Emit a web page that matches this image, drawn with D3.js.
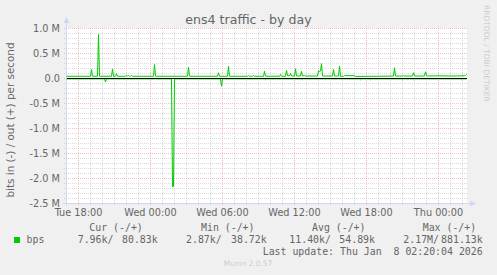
<!DOCTYPE html>
<html><head><meta charset="utf-8">
<script src="https://cdn.jsdelivr.net/npm/d3@7"></script>
<style>
html,body{margin:0;padding:0;background:#F0F0F0;}
svg{display:block;}
text{font-family:"DejaVu Sans",sans-serif;}
.mono{font-family:"DejaVu Sans Mono",monospace;}
</style></head>
<body>
<script>
// ---------- data ----------
const title = "ens4 traffic - by day";
const yLabel = "bits in (-) / out (+) per second";
const timeDomain = ["06 17:00", "08 02:20"];
const xTicks = ["06 18:00","07 00:00","07 06:00","07 12:00","07 18:00","08 00:00"];
const yTicks = [1000,500,0,-500,-1000,-1500,-2000,-2500]; // k
const yTickLabels = ["1.0 M","0.5 M","0.0","-0.5 M","-1.0 M","-1.5 M","-2.0 M","-2.5 M"];
// out (+) series, bits/s in k
const outSeries = [
 ["06 17:00",45],["06 19:00",45],["06 19:05",180],["06 19:10",45],
 ["06 19:35",45],["06 19:40",880],["06 19:45",45],
 ["06 20:45",45],["06 20:50",190],["06 20:55",45],
 ["06 21:05",45],["06 21:10",95],["06 21:15",45],
 ["06 21:55",45],["06 22:00",65],["06 22:05",45],["06 22:10",60],["06 22:15",45],
 ["06 22:20",45],["06 22:25",65],["06 22:30",45],
 ["07 00:15",45],["07 00:20",280],["07 00:25",45],
 ["07 03:05",45],["07 03:10",225],["07 03:15",45],
 ["07 05:35",45],["07 05:40",115],["07 05:45",45],
 ["07 06:25",45],["07 06:30",245],["07 06:35",45],
 ["07 08:05",45],["07 08:10",60],["07 08:15",45],
 ["07 08:30",45],["07 08:35",60],["07 08:40",45],
 ["07 09:25",45],["07 09:30",145],["07 09:35",45],
 ["07 10:45",45],["07 10:50",80],["07 10:55",45],
 ["07 11:15",45],["07 11:20",160],["07 11:25",55],["07 11:35",55],["07 11:40",100],["07 11:45",50],
 ["07 12:00",50],["07 12:05",195],["07 12:10",50],
 ["07 12:30",50],["07 12:35",145],["07 12:40",50],["07 12:50",60],["07 12:55",50],
 ["07 13:55",50],["07 14:00",160],["07 14:05",140],["07 14:10",150],["07 14:15",295],["07 14:20",50],
 ["07 15:10",50],["07 15:15",180],["07 15:20",50],
 ["07 15:40",50],["07 15:45",245],["07 15:50",45],
 ["07 16:05",45],["07 16:10",58],["07 17:00",58],["07 17:05",42],["07 19:00",45],
 ["07 20:15",50],["07 20:20",215],["07 20:25",50],
 ["07 21:00",50],["07 21:05",60],["07 21:10",50],
 ["07 21:50",50],["07 21:55",115],["07 22:00",50],
 ["07 22:50",50],["07 22:55",135],["07 23:00",60],["07 23:05",50],
 ["08 00:00",55],["08 01:00",50],["08 02:10",55],["08 02:15",60],["08 02:20",81]
];
// in (-) series, bits/s in k
const inSeries = [
 ["06 17:00",-8],["06 20:10",-8],["06 20:15",-70],["06 20:20",-8],
 ["07 01:45",-8],["07 01:50",-2170],["07 01:55",-2150],["07 02:00",-8],
 ["07 05:50",-8],["07 05:55",-155],["07 06:00",-8],
 ["07 09:30",-8],["07 09:35",-25],["07 09:40",-8],
 ["07 12:35",-8],["07 12:40",-25],["07 12:45",-8],
 ["07 17:25",-8],["07 17:30",-25],["07 17:35",-8],
 ["07 18:15",-8],["07 18:20",-25],["07 18:25",-8],
 ["07 20:55",-8],["07 21:00",-25],["07 21:05",-8],
 ["07 21:50",-8],["07 21:55",-25],["07 22:00",-8],
 ["08 01:50",-8],["08 01:55",-25],["08 02:00",-8],["08 02:20",-8]
];
const legendHeaders = ["Cur (-/+)","Min (-/+)","Avg (-/+)","Max (-/+)"];
const legendIn = ["7.96k/","2.87k/","11.40k/","2.17M/"];
const legendOut = ["80.83k","38.72k","54.89k","881.13k"];
const seriesName = "bps";
const lastUpdate = "Last update: Thu Jan  8 02:20:04 2026";
const watermark = "Munin 2.0.57";
const sideText = "RRDTOOL / TOBI OETIKER";

// ---------- drawing ----------
const W = 497, H = 275;
const parse = s => d3.timeParse("%Y-%m-%d %H:%M")("2026-01-" + s);
const svg = d3.select("body").append("svg").attr("width", W).attr("height", H);
svg.append("rect").attr("width", W).attr("height", H).attr("fill", "#F0F0F0");

const X0 = 66, X1 = 466, Y0 = 28, Y1 = 203;
const x = d3.scaleTime().domain(timeDomain.map(parse)).range([X0 + 0.5, X1 + 0.5]);
const y = d3.scaleLinear().domain([-2500, 1000]).range([Y1 + 0.5, Y0 + 0.5]);

svg.append("rect").attr("x", X0).attr("y", Y0).attr("width", X1 - X0 + 1).attr("height", Y1 - Y0)
  .attr("fill", "#FFFFFF");

const FONT = "#666666";
const grid = svg.append("g").attr("shape-rendering", "crispEdges");
// minor horizontal grid every 100k
const minorY = d3.range(-2500, 1001, 100).filter(v => v % 500 !== 0);
grid.selectAll(".hmin").data(minorY).enter().append("line")
  .attr("x1", X0 - 2).attr("x2", X1 + 1).attr("y1", d => Math.floor(y(d)) + 0.5).attr("y2", d => Math.floor(y(d)) + 0.5)
  .attr("stroke", "#8F8F8F").attr("stroke-opacity", 0.32).attr("stroke-dasharray", "1,1");
// minor vertical grid every hour
const hours = d3.timeHour.range(parse("06 17:00"), parse("08 02:21")).filter(t => t.getHours() % 6 !== 0);
grid.selectAll(".vmin").data(hours).enter().append("line")
  .attr("x1", d => Math.floor(x(d)) + 0.5).attr("x2", d => Math.floor(x(d)) + 0.5).attr("y1", Y0).attr("y2", Y1 + 3)
  .attr("stroke", "#8F8F8F").attr("stroke-opacity", 0.32).attr("stroke-dasharray", "1,1");
// major grid
grid.selectAll(".hmaj").data(yTicks).enter().append("line")
  .attr("x1", X0 - 2).attr("x2", X1 + 1).attr("y1", d => Math.floor(y(d)) + 0.5).attr("y2", d => Math.floor(y(d)) + 0.5)
  .attr("stroke", "#DE4F4F").attr("stroke-opacity", 0.36).attr("stroke-dasharray", "1,1");
grid.selectAll(".vmaj").data(xTicks.map(parse)).enter().append("line")
  .attr("x1", d => Math.floor(x(d)) + 0.5).attr("x2", d => Math.floor(x(d)) + 0.5).attr("y1", Y0).attr("y2", Y1 + 3)
  .attr("stroke", "#DE4F4F").attr("stroke-opacity", 0.36).attr("stroke-dasharray", "1,1");

// axes lines with arrows
const AX = "#CFD6F8";
svg.append("line").attr("x1", X0 + 0.5).attr("x2", X0 + 0.5).attr("y1", Y1 + 3).attr("y2", 21)
  .attr("stroke", AX).attr("shape-rendering", "crispEdges");
svg.append("path").attr("d", `M${X0 - 2.5},${23} L${X0 + 0.5},${17} L${X0 + 3.5},${23} Z`).attr("fill", AX);
svg.append("line").attr("x1", X0 - 3).attr("x2", X1 + 5).attr("y1", Y1 + 0.5).attr("y2", Y1 + 0.5)
  .attr("stroke", AX).attr("shape-rendering", "crispEdges");
svg.append("path").attr("d", `M${X1 + 4},${Y1 - 2.5} L${X1 + 10},${Y1 + 0.5} L${X1 + 4},${Y1 + 3.5} Z`).attr("fill", AX);

// y tick labels
svg.selectAll(".ylab").data(yTicks).enter().append("text")
  .attr("x", 60).attr("y", d => y(d) + 3.5).attr("text-anchor", "end")
  .attr("font-size", "9.72px").attr("fill", FONT)
  .text((d, i) => yTickLabels[i]);
// x tick labels
const fmt = d3.timeFormat("%a %H:%M");
svg.selectAll(".xlab").data(xTicks.map(parse)).enter().append("text")
  .attr("x", d => x(d)).attr("y", 216).attr("text-anchor", "middle")
  .attr("font-size", "9.72px").attr("fill", FONT)
  .text(d => fmt(d));

// data lines
const line = d3.line().x(d => x(parse(d[0]))).y(d => y(d[1]));
svg.append("path").datum(inSeries).attr("d", line).attr("fill", "none").attr("stroke", "#00CC00").attr("stroke-width", 1);
svg.append("path").datum(outSeries).attr("d", line).attr("fill", "none").attr("stroke", "#00CC00").attr("stroke-width", 1);
// zero line
svg.append("line").attr("x1", X0 + 1).attr("x2", X1 + 1).attr("y1", Math.floor(y(0)) + 0.5).attr("y2", Math.floor(y(0)) + 0.5)
  .attr("stroke", "#000000").attr("shape-rendering", "crispEdges");

// title
svg.append("text").attr("x", 248.5).attr("y", 24).attr("text-anchor", "middle")
  .attr("font-size", "12.6px").attr("fill", FONT).text(title);
// y label
svg.append("text").attr("transform", "translate(14,120) rotate(-90)").attr("text-anchor", "middle")
  .attr("font-size", "10.4px").attr("fill", FONT).text(yLabel);
// side text
svg.append("text").attr("transform", "translate(483.5,5) rotate(90)").attr("text-anchor", "start")
  .attr("font-size", "7.5px").attr("fill", "#666").attr("fill-opacity", 0.3).text(sideText);

// legend
const hdrX = [89.3, 201, 312, 422.7];
const inX = [77.7, 186, 289.3, 403.3];
const outX = [157.7, 266.7, 375, 482.7];
svg.selectAll(".lh").data(legendHeaders).enter().append("text").attr("class", "mono")
  .attr("x", (d, i) => hdrX[i]).attr("y", 230.5).attr("font-size", "9.9px").attr("fill", FONT).attr("xml:space", "preserve").text(d => d);
svg.append("rect").attr("x", 14).attr("y", 237).attr("width", 6).attr("height", 6).attr("fill", "#00CC00");
svg.append("text").attr("class", "mono").attr("x", 26.5).attr("y", 243).attr("font-size", "9.9px").attr("fill", FONT).text(seriesName);
svg.selectAll(".li").data(legendIn).enter().append("text").attr("class", "mono")
  .attr("x", (d, i) => inX[i]).attr("y", 243).attr("font-size", "9.9px").attr("fill", FONT).text(d => d);
svg.selectAll(".lo").data(legendOut).enter().append("text").attr("class", "mono")
  .attr("x", (d, i) => outX[i]).attr("y", 243).attr("text-anchor", "end").attr("font-size", "9.9px").attr("fill", FONT).text(d => d);
svg.append("text").attr("class", "mono").attr("x", 482.7).attr("y", 255.3).attr("text-anchor", "end")
  .attr("font-size", "9.9px").attr("fill", FONT).attr("xml:space", "preserve").style("white-space", "pre").text(lastUpdate);
svg.append("text").attr("x", 248).attr("y", 265.7).attr("text-anchor", "middle")
  .attr("font-size", "7.4px").attr("fill", "#666").attr("fill-opacity", 0.3).text(watermark);
</script>
</body></html>
